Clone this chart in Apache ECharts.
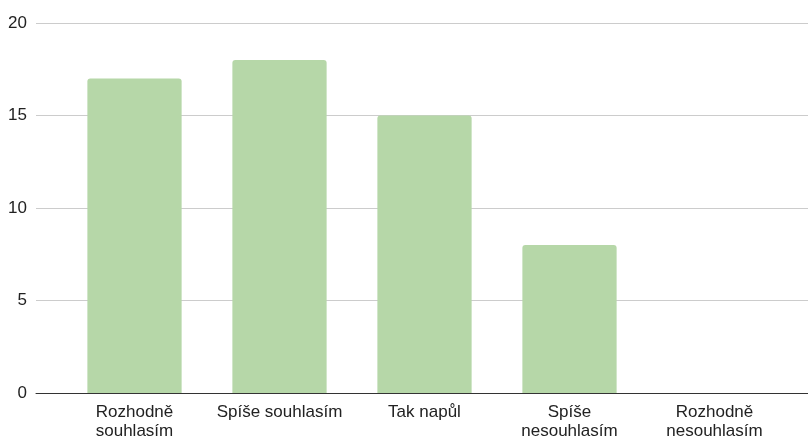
<!DOCTYPE html>
<html>
<head>
<meta charset="utf-8">
<script src="https://cdn.jsdelivr.net/npm/echarts@6/dist/echarts.min.js"></script>
<style>
  html, body { margin: 0; padding: 0; background: #fff; }
  #chart { width: 808px; height: 441px; }
</style>
</head>
<body>
<div id="chart"></div>
<script>
// Survey answers and number of respondents per answer
const categories = ['Rozhodně\nsouhlasím', 'Spíše souhlasím', 'Tak napůl', 'Spíše\nnesouhlasím', 'Rozhodně\nnesouhlasím'];
const counts = [17, 18, 15, 8, 0];
const yTicks = [0, 5, 10, 15, 20];

const FONT = 'Liberation Sans, Arial, sans-serif';
const yMin = yTicks[0];
const yMax = yTicks[yTicks.length - 1];
const yStep = yTicks[1] - yTicks[0];

const chart = echarts.init(document.getElementById('chart'), null, { renderer: 'canvas' });
chart.setOption({
  animation: false,
  backgroundColor: '#ffffff',
  grid: [
    // wide grid: gridlines, baseline and value labels
    { left: 36, right: 0, top: 23, bottom: 48 },
    // inner grid: bars and category labels
    { left: 62, right: 21, top: 23, bottom: 48 }
  ],
  xAxis: [
    {
      gridIndex: 0, type: 'value', min: 0, max: 1,
      axisLine: { show: true, lineStyle: { color: '#333333', width: 1 } },
      axisTick: { show: false }, axisLabel: { show: false }, splitLine: { show: false }
    },
    {
      gridIndex: 1, type: 'category', data: categories,
      axisLine: { show: false }, axisTick: { show: false },
      axisLabel: {
        color: '#222222', fontFamily: FONT, fontSize: 17, lineHeight: 19,
        margin: 10, interval: 0, align: 'center'
      }
    }
  ],
  yAxis: [
    {
      gridIndex: 0, type: 'value', min: yMin, max: yMax, interval: yStep,
      axisLine: { show: false }, axisTick: { show: false },
      axisLabel: { color: '#222222', fontFamily: FONT, fontSize: 17, margin: 9 },
      splitLine: { lineStyle: { color: '#cccccc', width: 1 } }
    },
    {
      gridIndex: 1, type: 'value', min: yMin, max: yMax, interval: yStep,
      show: false
    }
  ],
  series: [{
    type: 'bar',
    xAxisIndex: 1, yAxisIndex: 1,
    data: counts,
    barWidth: '65%',
    itemStyle: { color: '#b6d7a8', borderRadius: [3, 3, 0, 0] },
    z: 3
  }]
});
</script>
</body>
</html>
